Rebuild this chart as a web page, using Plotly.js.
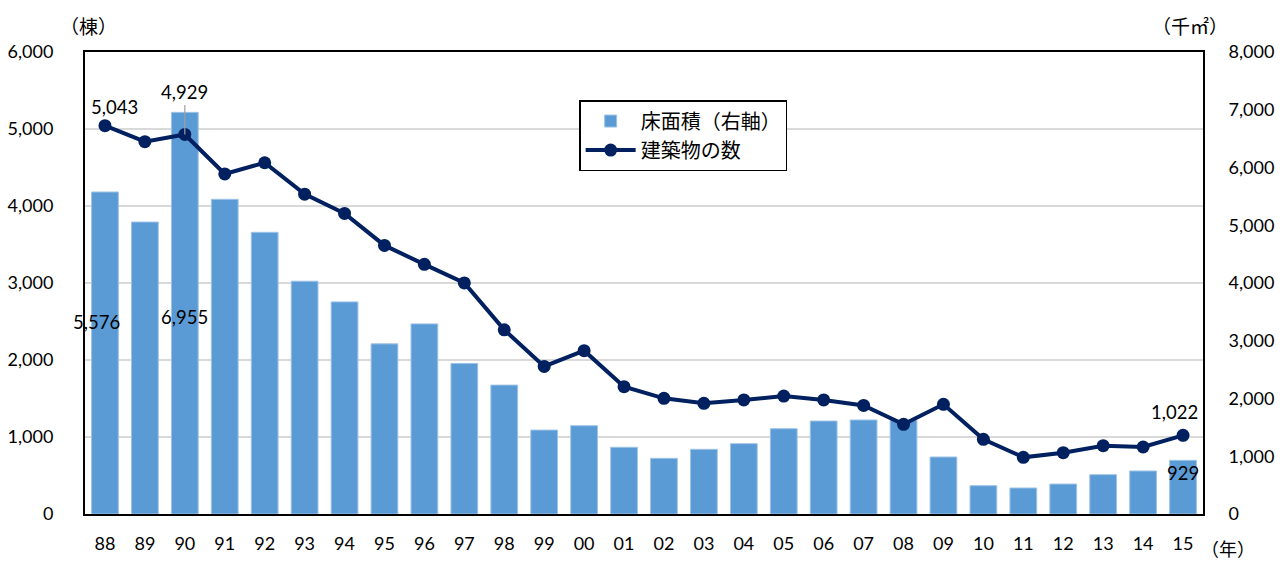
<!DOCTYPE html>
<html>
<head>
<meta charset="utf-8">
<script src="https://cdn.plot.ly/plotly-3.0.1.min.js"></script>
<style>html,body{margin:0;padding:0;background:#fff;}#chart{width:1287px;height:562px;}</style>
</head>
<body>
<div id="chart"></div>
<script>
var years = ['88','89','90','91','92','93','94','95','96','97','98','99','00','01','02','03','04','05','06','07','08','09','10','11','12','13','14','15'];
// 床面積（千㎡, right axis)
var floorArea = [5576,5056,6955,5449,4878,4031,3673,2946,3292,2607,2232,1453,1529,1155,964,1120,1218,1477,1610,1628,1620,987,490,450,519,681,745,929];
// 建築物の数（棟, left axis)
var buildings = [5043,4835,4929,4416,4562,4154,3903,3488,3242,3001,2392,1917,2121,1653,1502,1437,1481,1532,1481,1410,1165,1425,970,736,796,887,870,1022];
var barName = '床面積（右軸）';
var lineName = '建築物の数';

var FONT = 'Lato, "Noto Sans CJK JP", sans-serif';
var JFONT = '"Noto Sans CJK JP", Lato, sans-serif';
var LBL = 18.5;

var traces = [
  {type:'bar', x:years, y:floorArea, name:barName, yaxis:'y',
   marker:{color:'#5B9BD5', line:{color:'#9DC3E6', width:1}}, hoverinfo:'x+y'},
  {type:'scatter', mode:'lines+markers', x:years, y:buildings, name:lineName, yaxis:'y2',
   line:{color:'#002060', width:4}, marker:{color:'#002060', size:13}}
];

function lbl(i, arr, axis, opts){
  var a = {x:i, y:arr[i], xref:'x', yref:axis, text:arr[i].toLocaleString('en-US'),
           showarrow:false, font:{family:FONT, size:LBL, color:'#000'}};
  for (var k in opts) a[k]=opts[k];
  return a;
}
var ann = [
  lbl(0, buildings, 'y2', {xshift:10, yshift:19}),
  lbl(2, buildings, 'y2', {showarrow:true, arrowhead:0, arrowwidth:1.2, arrowcolor:'#a0a0a0', ax:0, ay:-42, standoff:0}),
  lbl(27, buildings, 'y2', {xshift:-9, yshift:23}),
  {x:0, y:0.416, xref:'x', yref:'paper', text:floorArea[0].toLocaleString('en-US'), showarrow:false, xshift:-8, font:{family:FONT,size:LBL,color:'#000'}},
  {x:2, y:0.426, xref:'x', yref:'paper', text:floorArea[2].toLocaleString('en-US'), showarrow:false, font:{family:FONT,size:LBL,color:'#000'}},
  {x:27, y:0.061, xref:'x', yref:'paper', text:floorArea[27].toLocaleString('en-US'), showarrow:false, font:{family:FONT,size:LBL,color:'#000'}},
  {x:0, y:1.058, xref:'paper', yref:'paper', xanchor:'center', yanchor:'middle', xshift:3, text:'（棟）', showarrow:false, font:{family:JFONT,size:19,color:'#000'}},
  {x:1.0, y:1.058, xref:'paper', yref:'paper', xanchor:'center', yanchor:'middle', xshift:-13, text:'（千㎡）', showarrow:false, font:{family:JFONT,size:19,color:'#000'}},
  {x:1.0, y:-0.074, xref:'paper', yref:'paper', xanchor:'left', yanchor:'middle', xshift:-4, text:'（年）', showarrow:false, font:{family:JFONT,size:18,color:'#000'}}
];

var layout = {
  width:1287, height:562,
  margin:{l:85, r:84, t:52, b:48},
  paper_bgcolor:'#fff', plot_bgcolor:'#fff',
  font:{family:FONT, size:18, color:'#000'},
  showlegend:true,
  bargap:0.33,
  legend:{x:0.442, y:0.896, xanchor:'left', yanchor:'top', bgcolor:'#fff', bordercolor:'#000', borderwidth:1.5,
          font:{family:JFONT, size:20, color:'#000'}, traceorder:'normal', itemwidth:50, tracegroupgap:0},
  xaxis:{type:'category', range:[-0.5, 27.5], autorange:false, showline:true, mirror:true, linecolor:'#000', linewidth:2, ticks:'', showgrid:false,
         tickfont:{family:FONT, size:18}, ticklabelstandoff:12, dtick:1},
  yaxis:{side:'right', range:[0,8000], dtick:1000, tickformat:',d', showgrid:false, showline:true, linecolor:'#000', linewidth:2,
         ticks:'', zeroline:false, tickfont:{family:FONT, size:18}, ticklabelstandoff:20},
  yaxis2:{overlaying:'y', side:'left', range:[0,6000], dtick:1000, tickformat:',d', showgrid:true, gridcolor:'#d9d9d9', gridwidth:1.5,
          showline:true, linecolor:'#000', linewidth:2, ticks:'', zeroline:false, tickfont:{family:FONT, size:18}, ticklabelstandoff:26},
  annotations:ann
};

Plotly.newPlot('chart', traces, layout, {displayModeBar:false, staticPlot:true});
</script>
</body>
</html>
